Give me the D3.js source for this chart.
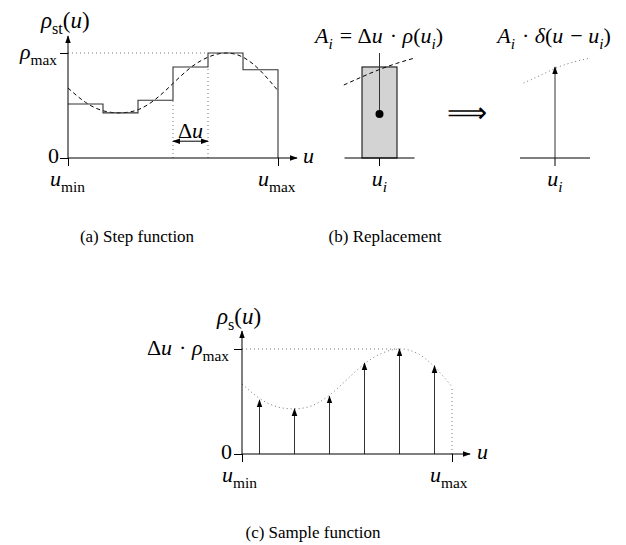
<!DOCTYPE html>
<html>
<head>
<script src="https://d3js.org/d3.v7.min.js"></script>
<style>
  body { margin: 0; background: #fff; }
</style>
</head>
<body>
<svg id="fig" width="626" height="545"></svg>
<script>
// ---- data (u measured in steps of width Δu, values relative to ρmax) ----
let curveU = [0, 0.5, 1, 1.5, 2, 2.5, 3, 3.5, 4, 4.5, 5, 5.5, 6];
let curveV = [0.667, 0.53, 0.45, 0.43, 0.46, 0.56, 0.71, 0.86, 0.96, 1.0, 0.96, 0.83, 0.64];
let stepV = [0.514, 0.43, 0.55, 0.867, 1.0, 0.84];
let sampleU = [0.5, 1.5, 2.5, 3.5, 4.5, 5.5];
let pieceU = [0, 0.5, 1, 1.5, 2];          // curve piece in panel (b), relative to rect
let pieceV = [0.695, 0.77, 0.84, 0.90, 0.95];
let dotU = [0, 0.5, 1, 1.5, 1.9];          // dotted piece in panel (b) right
let dotV = [0.714, 0.79, 0.867, 0.92, 0.952];
let barValue = 0.867;
let captions = ["(a) Step function", "(b) Replacement", "(c) Sample function"];

let svg = d3.select("#fig");
const FONT = "Liberation Serif";

let defs = svg.append("defs");
defs.append("marker").attr("id", "arr")
  .attr("viewBox", "0 0 10 10").attr("refX", 9).attr("refY", 5)
  .attr("markerWidth", 8).attr("markerHeight", 8).attr("markerUnits", "userSpaceOnUse")
  .attr("orient", "auto-start-reverse")
  .append("path").attr("d", "M0,1.5 L10,5 L0,8.5 Z").attr("fill", "#000");

// math-ish text with subscripts; "o" = operator (roman, a bit of extra room)
function math(g, x, y, parts, anchor, size) {
  let t = g.append("text").attr("x", x).attr("y", y).style("font-family", FONT)
    .attr("text-anchor", anchor || "start").style("font-size", size + "px");
  let sub = false;
  parts.forEach(([s, k]) => {
    let isSub = k === "s" || k === "si";
    let ts = t.append("tspan").text(s)
      .style("font-style", (k === "i" || k === "si") ? "italic" : "normal");
    if (isSub) ts.style("font-size", (size * 0.7) + "px").attr("dy", sub ? 0 : size * 0.25);
    else ts.attr("dy", sub ? -size * 0.25 : 0);
    if (k === "o") ts.attr("dx", 1.5);
    sub = isSub;
  });
  return t;
}

function axes(g, x, y, xEnd, yTop) {
  g.append("g").attr("transform", `translate(${x.range()[0]},0)`)
    .call(d3.axisLeft(y).tickValues([0, 1]).tickSize(8).tickFormat(""))
    .call(a => a.select(".domain").remove());
  g.append("g").attr("transform", `translate(0,${y(0)})`)
    .call(d3.axisBottom(x).tickValues([0, 6]).tickSize(8).tickFormat(""))
    .call(a => a.select(".domain").remove());
  g.selectAll(".tick line").attr("stroke", "#000");
  g.append("line").attr("x1", x(0)).attr("x2", x(0)).attr("y1", y(0)).attr("y2", yTop)
    .attr("stroke", "#000").attr("marker-end", "url(#arr)");
  g.append("line").attr("x1", x(0)).attr("x2", xEnd).attr("y1", y(0)).attr("y2", y(0))
    .attr("stroke", "#000").attr("marker-end", "url(#arr)");
}

let dotted = s => s.attr("fill", "none").attr("stroke", "#777").attr("stroke-width", 1).attr("stroke-dasharray", "1,3");

// ---------- (a) Step function ----------
{
  let g = svg.append("g");
  let x = d3.scaleLinear([0, 6], [68, 278]);
  let y = d3.scaleLinear([0, 1], [158, 53]);
  let curve = d3.line().x((d, i) => x(curveU[i])).y(d => y(d)).curve(d3.curveNatural);

  g.append("line").attr("x1", x(0)).attr("x2", x(4)).attr("y1", y(1)).attr("y2", y(1)).call(dotted);
  [3, 4].forEach(u => g.append("line").attr("x1", x(u)).attr("x2", x(u))
    .attr("y1", y(0)).attr("y2", y(Math.min(stepV[u - 1], stepV[u]))).call(dotted));

  g.append("path").datum(curveV).attr("d", curve)
    .attr("fill", "none").attr("stroke", "#000").attr("stroke-dasharray", "4,3");

  let pts = stepV.map((v, i) => [i, v]).concat([[6, stepV[5]], [6, 0]]);
  g.append("path").datum(pts)
    .attr("d", d3.line().x(d => x(d[0])).y(d => y(d[1])).curve(d3.curveStepAfter))
    .attr("fill", "none").attr("stroke", "#333").attr("stroke-width", 1.1);

  axes(g, x, y, 297, 36);

  g.append("line").attr("x1", x(3)).attr("x2", x(4)).attr("y1", y(0.16)).attr("y2", y(0.16))
    .attr("stroke", "#000").attr("marker-start", "url(#arr)").attr("marker-end", "url(#arr)");
  math(g, x(3.5), 138, [["Δ", "r"], ["u", "i"]], "middle", 22);

  math(g, 41, 28, [["ρ", "i"], ["st", "s"], ["(", "r"], ["u", "i"], [")", "r"]], "start", 23);
  math(g, 57, 59, [["ρ", "i"], ["max", "s"]], "end", 22);
  math(g, 59, 163, [["0", "r"]], "end", 22);
  math(g, 303, 163, [["u", "i"]], "start", 22);
  math(g, x(0) - 18, 186, [["u", "i"], ["min", "s"]], "start", 22);
  math(g, x(6) - 20, 186, [["u", "i"], ["max", "s"]], "start", 22);
}

// ---------- (b) Replacement ----------
{
  let g = svg.append("g");
  let x = d3.scaleLinear([0, 1], [362, 397]);
  let y = d3.scaleLinear([0, 1], [158, 53]);
  g.append("rect").attr("x", x(0)).attr("y", y(barValue)).attr("width", x(1) - x(0))
    .attr("height", y(0) - y(barValue)).attr("fill", "#d3d3d3").attr("stroke", "#000");
  g.append("line").attr("x1", x(-0.5)).attr("x2", x(1.5)).attr("y1", y(0)).attr("y2", y(0)).attr("stroke", "#000");
  g.append("line").attr("x1", x(0.5)).attr("x2", x(0.5)).attr("y1", y(0)).attr("y2", y(0) + 8).attr("stroke", "#000");
  g.append("line").attr("x1", x(0.5)).attr("x2", x(0.5)).attr("y1", y(1)).attr("y2", y(0.42)).attr("stroke", "#333");
  g.append("circle").attr("cx", x(0.5)).attr("cy", y(0.42)).attr("r", 4).attr("fill", "#000");
  g.append("path").datum(pieceV)
    .attr("d", d3.line().x((d, i) => x(pieceU[i] - 0.52)).y(d => y(d)).curve(d3.curveNatural))
    .attr("fill", "none").attr("stroke", "#000").attr("stroke-dasharray", "4,3");
  math(g, 379, 43, [["A", "i"], ["i", "si"], [" = ", "o"], ["Δ", "r"], ["u", "i"], [" · ", "o"], ["ρ", "i"], ["(", "r"], ["u", "i"], ["i", "si"], [")", "r"]], "middle", 22);
  math(g, x(0.5), 186, [["u", "i"], ["i", "si"]], "middle", 22);

  // implication arrow
  g.append("text").attr("x", 467).attr("y", 122).attr("text-anchor", "middle").style("font-family", FONT)
    .style("font-size", "28px").text("⟹");

  let x2 = d3.scaleLinear([0, 1], [537.5, 572.5]);
  g.append("line").attr("x1", x2(-0.5)).attr("x2", x2(1.5)).attr("y1", y(0)).attr("y2", y(0)).attr("stroke", "#000");
  g.append("line").attr("x1", x2(0.5)).attr("x2", x2(0.5)).attr("y1", y(0)).attr("y2", y(0) + 8).attr("stroke", "#000");
  g.append("line").attr("x1", x2(0.5)).attr("x2", x2(0.5)).attr("y1", y(0)).attr("y2", y(barValue))
    .attr("stroke", "#333").attr("marker-end", "url(#arr)");
  g.append("path").datum(dotV)
    .attr("d", d3.line().x((d, i) => x2(dotU[i] - 0.4)).y(d => y(d)).curve(d3.curveNatural))
    .call(dotted);
  math(g, 554, 43, [["A", "i"], ["i", "si"], [" · ", "o"], ["δ", "i"], ["(", "r"], ["u", "i"], [" − ", "o"], ["u", "i"], ["i", "si"], [")", "r"]], "middle", 22);
  math(g, x2(0.5), 186, [["u", "i"], ["i", "si"]], "middle", 22);
}

// ---------- (c) Sample function ----------
{
  let g = svg.append("g");
  let x = d3.scaleLinear([0, 6], [242, 452]);
  let y = d3.scaleLinear([0, 1], [454, 349]);
  g.append("line").attr("x1", x(0)).attr("x2", x(4.5)).attr("y1", y(1)).attr("y2", y(1)).call(dotted);
  g.append("line").attr("x1", x(6)).attr("x2", x(6)).attr("y1", y(0)).attr("y2", y(curveV[12])).call(dotted);
  g.append("path").datum(curveV)
    .attr("d", d3.line().x((d, i) => x(curveU[i])).y(d => y(d)).curve(d3.curveNatural))
    .call(dotted);
  g.selectAll("line.stem").data(stepV).join("line").attr("class", "stem")
    .attr("x1", (d, i) => x(sampleU[i])).attr("x2", (d, i) => x(sampleU[i]))
    .attr("y1", y(0)).attr("y2", d => y(d))
    .attr("stroke", "#333").attr("marker-end", "url(#arr)");

  axes(g, x, y, 470, 331);

  math(g, 217, 324, [["ρ", "i"], ["s", "s"], ["(", "r"], ["u", "i"], [")", "r"]], "start", 23);
  math(g, 229, 355, [["Δ", "r"], ["u", "i"], [" · ", "o"], ["ρ", "i"], ["max", "s"]], "end", 22);
  math(g, 232, 459, [["0", "r"]], "end", 22);
  math(g, 477, 459, [["u", "i"]], "start", 22);
  math(g, x(0) - 20, 482, [["u", "i"], ["min", "s"]], "start", 22);
  math(g, x(6) - 22, 482, [["u", "i"], ["max", "s"]], "start", 22);
}

// captions
svg.selectAll("text.cap").data(captions).join("text").attr("class", "cap")
  .style("font-family", FONT)
  .attr("x", (d, i) => [137, 385, 313][i]).attr("y", (d, i) => [242, 242, 538][i])
  .attr("text-anchor", "middle").style("font-size", "17px").text(d => d);
</script>
</body>
</html>
